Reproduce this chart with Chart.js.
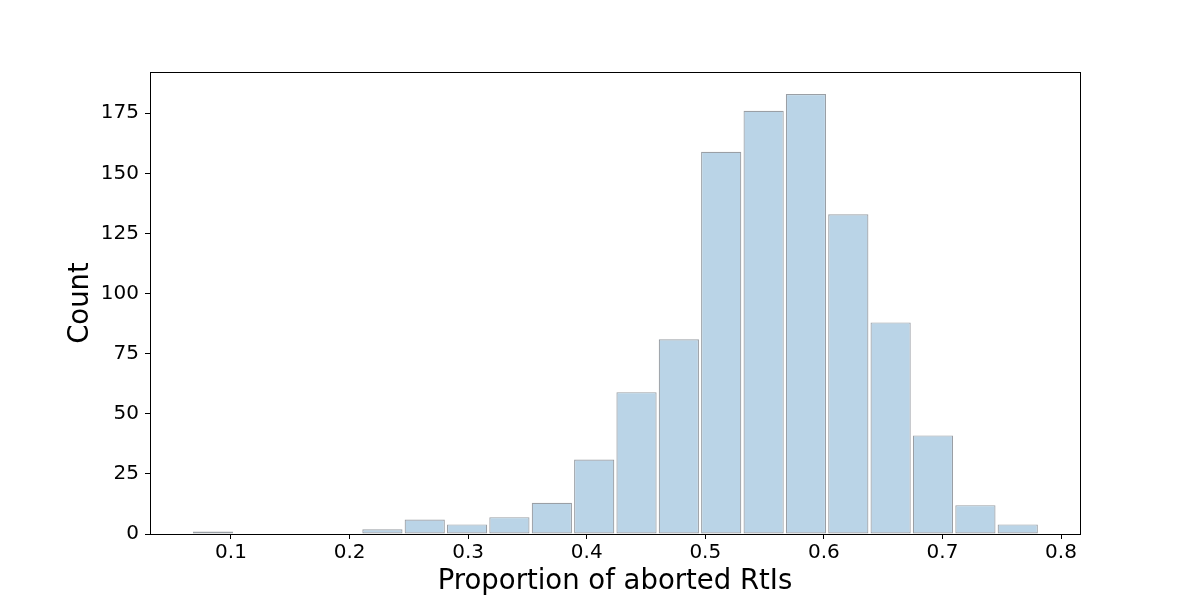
<!DOCTYPE html>
<html>
<head>
<meta charset="utf-8">
<script src="https://cdn.jsdelivr.net/npm/chart.js@4/dist/chart.umd.min.js"></script>
<style>
  html, body { margin: 0; padding: 0; background: #fff; }
  #wrap { width: 1200px; height: 600px; }
</style>
</head>
<body>
<div id="wrap"><canvas id="hist"></canvas></div>
<script>
"use strict";
// bin centres and counts
const binCenters = [0.0848, 0.1205, 0.1562, 0.1920, 0.2277, 0.2634, 0.2991, 0.3348, 0.3706, 0.4063,
  0.4420, 0.4777, 0.5134, 0.5492, 0.5849, 0.6206, 0.6563, 0.6920, 0.7278, 0.7635];
const counts = [1, 0, 0, 0, 2, 6, 4, 7, 13, 31, 59, 81, 159, 176, 183, 133, 88, 41, 12, 4];
const xTicks = [0.1, 0.2, 0.3, 0.4, 0.5, 0.6, 0.7, 0.8];
const yTicks = [0, 25, 50, 75, 100, 125, 150, 175];

const points = binCenters.map((c, i) => ({ x: c, y: counts[i] }));

const frameBox = {
  id: "frameBox",
  afterDraw(chart) {
    const { ctx, chartArea: a } = chart;
    ctx.save();
    ctx.strokeStyle = "#000";
    ctx.lineWidth = 1;
    ctx.strokeRect(a.left + 0.5, a.top + 0.5, a.right - a.left, a.bottom - a.top);
    ctx.restore();
  },
};

const tickFont = { family: "DejaVu Sans", size: 20 };
const titleFont = { family: "DejaVu Sans", size: 27.5 };

const config = {
  type: "bar",
  data: {
    datasets: [
      {
        label: "Count",
        data: points,
        backgroundColor: "#bad4e7",
        borderColor: "#9a9fa5",
        borderWidth: 1.2,
        borderSkipped: false,
        barPercentage: 0.95,
        categoryPercentage: 1,
      },
    ],
  },
  options: {
    responsive: true,
    maintainAspectRatio: false,
    animation: false,
    layout: {
      padding: { left: 0, right: 120, top: 72, bottom: 0 },
    },
    plugins: {
      legend: { display: false },
      tooltip: { enabled: false },
    },
    scales: {
      x: {
        type: "linear",
        min: 0.0317,
        max: 0.816,
        offset: false,
        afterBuildTicks: (axis) => {
          axis.ticks = xTicks.map((v) => ({ value: v }));
        },
        afterFit: (axis) => {
          axis.height = 66;
        },
        grid: {
          offset: false,
          drawOnChartArea: false,
          drawTicks: true,
          tickLength: 5,
          tickColor: "#000",
        },
        border: { display: true, color: "#000" },
        ticks: {
          color: "#000",
          font: tickFont,
          padding: 2,
          maxRotation: 0,
          callback: (v) => v.toFixed(1),
        },
        title: {
          display: true,
          text: "Proportion of aborted RtIs",
          color: "#000",
          font: titleFont,
          padding: { top: 0, bottom: 2 },
        },
      },
      y: {
        min: 0,
        max: 192.15,
        afterBuildTicks: (axis) => {
          axis.ticks = yTicks.map((v) => ({ value: v }));
        },
        afterFit: (axis) => {
          axis.width = 150;
        },
        grid: {
          drawOnChartArea: false,
          drawTicks: true,
          tickLength: 5,
          tickColor: "#000",
        },
        border: { display: true, color: "#000" },
        ticks: {
          color: "#000",
          font: tickFont,
          padding: 6,
        },
        title: {
          display: true,
          text: "Count",
          color: "#000",
          font: titleFont,
          padding: { top: 64, bottom: 0 },
        },
      },
    },
  },
  plugins: [frameBox],
};

const histChart = new Chart(document.getElementById("hist"), config);
</script>
</body>
</html>
